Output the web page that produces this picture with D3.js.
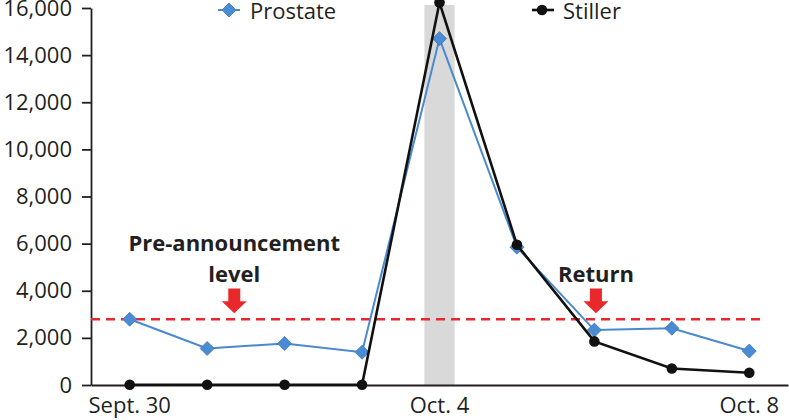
<!DOCTYPE html>
<html>
<head>
<meta charset="utf-8">
<script src="https://cdn.jsdelivr.net/npm/d3@7"></script>
<style>
	body { margin: 0; background: #fff; }
	svg { display: block; font-family: "Open Sans", sans-serif; }
</style>
</head>
<body>
<svg id="chart" width="789" height="420"></svg>
<script>
const days = ['Sept. 30', 'Oct. 1', 'Oct. 2', 'Oct. 3', 'Oct. 4', 'Oct. 5', 'Oct. 6', 'Oct. 7', 'Oct. 8'];
const shownDays = ['Sept. 30', 'Oct. 4', 'Oct. 8'];
const prostate = [2790, 1550, 1760, 1390, 14700, 5850, 2330, 2410, 1440];
const stiller = [10, 10, 10, 10, 16230, 5950, 1850, 700, 520];
const yTicks = [0, 2000, 4000, 6000, 8000, 10000, 12000, 14000, 16000];
const preLevel = 2790;
const highlightDay = 'Oct. 4';
const highlightTop = 16130;
// annotation arrows: position in day index units, tip and tail values
const notes = [
	{ pos: 1.35, lines: ['Pre-announcement', 'level'], tail: 4100, tip: 3050 },
	{ pos: 6.02, lines: ['Return'], tail: 4100, tip: 3050 }
];

const svg = d3.select('#chart');
const margin = { top: 8, right: 1, bottom: 35, left: 91 };
const width = +svg.attr('width'), height = +svg.attr('height');

const x = d3.scaleBand().domain(days).range([margin.left, width - margin.right]);
const y = d3.scaleLinear().domain([0, 16000]).range([height - margin.bottom, margin.top]);
const xi = i => x(days[0]) + x.bandwidth() / 2 + i * x.step();
const xc = d => x(d) + x.bandwidth() / 2;

// highlighted day
svg.append('rect')
	.attr('x', xc(highlightDay) - x.step() * 0.195)
	.attr('width', x.step() * 0.39)
	.attr('y', y(highlightTop))
	.attr('height', y(0) - y(highlightTop))
	.attr('fill', '#d9d9d9');

// axes
const yAxis = svg.append('g')
	.attr('transform', `translate(${margin.left},0)`)
	.call(d3.axisLeft(y).tickValues(yTicks).tickSize(9).tickSizeOuter(0).tickPadding(10).tickFormat(d3.format(',')));
const xAxis = svg.append('g')
	.attr('transform', `translate(0,${y(0)})`)
	.call(d3.axisBottom(x).tickValues(shownDays).tickSize(0).tickPadding(12));
[yAxis, xAxis].forEach(a => {
	a.selectAll('.domain, line').attr('stroke', '#231f20').attr('stroke-width', 1.8);
	a.selectAll('text').attr('fill', '#231f20').style('font-size', '22px').style('font-family', '"Open Sans", sans-serif');
});

// pre-announcement level
svg.append('line')
	.attr('x1', margin.left).attr('x2', xi(8.18))
	.attr('y1', y(preLevel)).attr('y2', y(preLevel))
	.attr('stroke', '#e8282b').attr('stroke-width', 2.4)
	.attr('stroke-dasharray', '9,6');

const line = d3.line().x((d, i) => xi(i)).y(d => y(d));
const diamond = d3.symbol().type(d3.symbolDiamond2).size(125);

// Prostate series
svg.append('path').datum(prostate)
	.attr('d', line).attr('fill', 'none')
	.attr('stroke', '#4a89cd').attr('stroke-width', 2);
svg.append('g').selectAll('path').data(prostate).join('path')
	.attr('d', diamond)
	.attr('transform', (d, i) => `translate(${xi(i)},${y(d)})`)
	.attr('fill', '#4a8cd4').attr('stroke', '#3a76ba').attr('stroke-width', 0.8);

// Stiller series
svg.append('path').datum(stiller)
	.attr('d', line).attr('fill', 'none')
	.attr('stroke', '#111').attr('stroke-width', 2.6);
svg.append('g').selectAll('circle').data(stiller).join('circle')
	.attr('cx', (d, i) => xi(i)).attr('cy', d => y(d)).attr('r', 5.3)
	.attr('fill', '#111');

// annotations
notes.forEach(n => {
	const cx = xi(n.pos), top = y(n.tail), tip = y(n.tip);
	const neck = tip - 12;
	svg.append('path')
		.attr('d', `M${cx - 6},${top}H${cx + 6}V${neck}H${cx + 12.5}L${cx},${tip}L${cx - 12.5},${neck}H${cx - 6}Z`)
		.attr('fill', '#e8282b');
	n.lines.forEach((t, k) => {
		svg.append('text')
			.attr('x', cx).attr('y', top - 6 - (n.lines.length - 1 - k) * 31)
			.attr('text-anchor', 'middle')
			.style('font-size', '22px').style('font-weight', 'bold')
			.attr('fill', '#231f20')
			.text(t);
	});
});

// legend
const legend = [
	{ name: 'Prostate', x: 218, color: '#4a89cd', mark: 'diamond' },
	{ name: 'Stiller', x: 532, color: '#111', mark: 'circle' }
];
legend.forEach(l => {
	const g = svg.append('g').attr('transform', `translate(${l.x},10)`);
	g.append('line').attr('x1', 0).attr('x2', 22)
		.attr('stroke', l.color).attr('stroke-width', l.mark === 'circle' ? 2.6 : 2);
	if (l.mark === 'diamond') {
		g.append('path').attr('d', diamond).attr('transform', 'translate(11,0)')
			.attr('fill', '#4a8cd4').attr('stroke', '#3a76ba').attr('stroke-width', 0.8);
	} else {
		g.append('circle').attr('cx', 10).attr('r', 5.3).attr('fill', l.color);
	}
	g.append('text').attr('x', l.name === 'Prostate' ? 32 : 31).attr('y', 9)
		.style('font-size', '22px').attr('fill', '#231f20').text(l.name);
});
</script>
</body>
</html>
